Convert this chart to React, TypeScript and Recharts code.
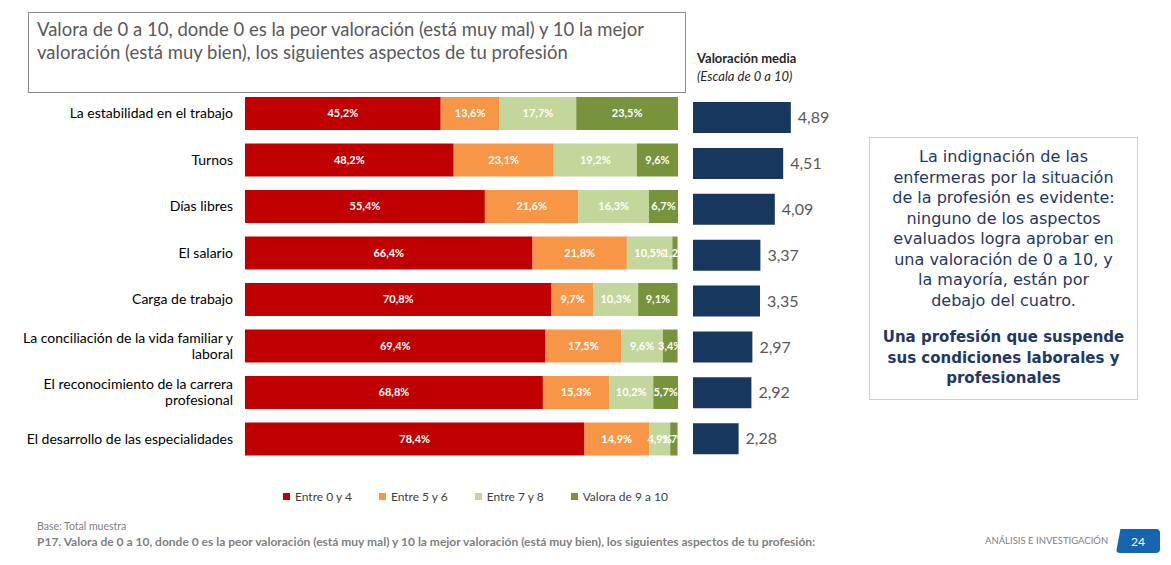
import React from "react";
import { BarChart, Bar, XAxis, YAxis, LabelList } from "recharts";

const aspects = [
  "La estabilidad en el trabajo",
  "Turnos",
  "Días libres",
  "El salario",
  "Carga de trabajo",
  "La conciliación de la vida familiar y laboral",
  "El reconocimiento de la carrera profesional",
  "El desarrollo de las especialidades",
];
const entre0y4 = [45.2, 48.2, 55.4, 66.4, 70.8, 69.4, 68.8, 78.4];
const entre5y6 = [13.6, 23.1, 21.6, 21.8, 9.7, 17.5, 15.3, 14.9];
const entre7y8 = [17.7, 19.2, 16.3, 10.5, 10.3, 9.6, 10.2, 4.9];
const de9a10 = [23.5, 9.6, 6.7, 1.2, 9.1, 3.4, 5.7, 1.7];
const mediaValues = [4.89, 4.51, 4.09, 3.37, 3.35, 2.97, 2.92, 2.28];

const seriesNames = ["Entre 0 y 4", "Entre 5 y 6", "Entre 7 y 8", "Valora de 9 a 10"];
const seriesColors = ["#C00000", "#F79646", "#C3D69B", "#77933C"];

const boxLines = [
  "La indignación de las",
  "enfermeras por la situación",
  "de la profesión es evidente:",
  "ninguno de los aspectos",
  "evaluados logra aprobar en",
  "una valoración de 0 a 10, y",
  "la mayoría, están por",
  "debajo del cuatro.",
];
const boxBoldLines = ["Una profesión que suspende", "sus condiciones laborales y", "profesionales"];

const data = aspects.map((a, i) => ({
  aspect: a,
  s0: entre0y4[i],
  s1: entre5y6[i],
  s2: entre7y8[i],
  s3: de9a10[i],
  media: mediaValues[i],
}));

const FONT = "Lato, 'Open Sans', sans-serif";
const pct = (v: any) => `${Number(v).toFixed(1).replace(".", ",")}%`;
const dec = (v: any) => Number(v).toFixed(2).replace(".", ",");

function splitLabel(text: string, max: number) {
  const words = text.split(" ");
  const lines: string[] = [];
  let cur = "";
  for (const w of words) {
    const next = cur ? cur + " " + w : w;
    if (next.length > max && cur) {
      lines.push(cur);
      cur = w;
    } else cur = next;
  }
  if (cur) lines.push(cur);
  return lines;
}

const AspectTick = (props: any) => {
  const { x, y, payload } = props;
  const lines = splitLabel(payload.value, 37);
  const lh = 16;
  const start = y - ((lines.length - 1) * lh) / 2;
  return (
    <text x={x} textAnchor="end" fontFamily={FONT} fontSize={14} fill="#000">
      {lines.map((l, i) => (
        <tspan key={i} x={x} y={start + i * lh} dy="0.35em">
          {l}
        </tspan>
      ))}
    </text>
  );
};

export default function App() {
  return (
    <div style={{ position: "absolute", left: 0, top: 0, width: 1171, height: 565, background: "#fff", fontFamily: FONT }}>
      <div
        style={{
          position: "absolute",
          left: 28,
          top: 12,
          width: 648,
          height: 74,
          border: "1px solid #8c8c8c",
          padding: "5px 0 0 8px",
          fontSize: 18.5,
          lineHeight: "23px",
          color: "#595959",
          whiteSpace: "nowrap",
        }}
      >
        Valora de 0 a 10, donde 0 es la peor valoración (está muy mal) y 10 la mejor
        <br />
        valoración (está muy bien), los siguientes aspectos de tu profesión
      </div>

      <div style={{ position: "absolute", left: 697, top: 49, fontSize: 13, color: "#262626", lineHeight: "18px" }}>
        <div style={{ fontWeight: 700 }}>Valoración media</div>
        <div style={{ fontStyle: "italic" }}>(Escala de 0 a 10)</div>
      </div>

      <div style={{ position: "absolute", left: 0, top: 90 }}>
        <BarChart
          width={690}
          height={372}
          data={data}
          layout="vertical"
          margin={{ top: 0, right: 12, bottom: 0, left: 0 }}
          barSize={33}
        >
          <XAxis type="number" domain={[0, 100]} hide allowDataOverflow />
          <YAxis
            type="category"
            dataKey="aspect"
            width={245}
            axisLine={false}
            tickLine={false}
            tick={<AspectTick />}
            tickMargin={6}
          />
          {["s0", "s1", "s2", "s3"].map((k, i) => (
            <Bar key={k} dataKey={k} name={seriesNames[i]} stackId="a" fill={seriesColors[i]} isAnimationActive={false}>
              <LabelList
                dataKey={k}
                position="center"
                formatter={pct}
                fill="#fff"
                fontSize={11}
                fontWeight={700}
                fontFamily={FONT}
              />
            </Bar>
          ))}
        </BarChart>
      </div>

      <div
        style={{
          position: "absolute",
          left: 283,
          top: 489,
          display: "flex",
          gap: 27,
          fontSize: 12,
          color: "#404040",
        }}
      >
        {seriesNames.map((n, i) => (
          <div key={n} style={{ display: "flex", alignItems: "center" }}>
            <span style={{ width: 7, height: 7, background: seriesColors[i], marginRight: 5, display: "inline-block" }} />
            {n}
          </div>
        ))}
      </div>

      <div style={{ position: "absolute", left: 693, top: 95 }}>
        <BarChart width={200} height={367} data={data} layout="vertical" margin={{ top: 0, right: 0, bottom: 0, left: 0 }} barSize={31}>
          <XAxis type="number" domain={[0, 10]} hide />
          <YAxis type="category" dataKey="aspect" hide />
          <Bar dataKey="media" fill="#17375E" isAnimationActive={false}>
            <LabelList
              dataKey="media"
              position="right"
              offset={7}
              formatter={dec}
              fill="#595959"
              fontSize={16}
              fontFamily={FONT}
            />
          </Bar>
        </BarChart>
      </div>

      <div
        style={{
          position: "absolute",
          left: 869,
          top: 137,
          width: 269,
          height: 263,
          border: "1px solid #d0d0d0",
          background: "#fff",
          color: "#1F3864",
          fontFamily: "'DejaVu Sans', sans-serif",
          lineHeight: "20.5px",
          textAlign: "center",
          paddingTop: 9,
          boxSizing: "border-box",
          whiteSpace: "nowrap",
        }}
      >
        <div style={{ fontSize: 16 }}>
          {boxLines.map((l) => (
            <div key={l}>{l}</div>
          ))}
        </div>
        <div style={{ fontSize: 15, fontWeight: 700, marginTop: 16 }}>
          {boxBoldLines.map((l) => (
            <div key={l}>{l}</div>
          ))}
        </div>
      </div>

      <div style={{ position: "absolute", left: 37, top: 520, fontSize: 10.5, color: "#7f7f7f" }}>Base: Total muestra</div>
      <div style={{ position: "absolute", left: 37, top: 534, fontSize: 12, fontWeight: 700, color: "#7f7f7f", whiteSpace: "nowrap" }}>
        P17. Valora de 0 a 10, donde 0 es la peor valoración (está muy mal) y 10 la mejor valoración (está muy bien), los
        siguientes aspectos de tu profesión:
      </div>
      <div style={{ position: "absolute", left: 985, top: 535, fontSize: 9.5, color: "#7f7f7f" }}>ANÁLISIS E INVESTIGACIÓN</div>
      <div
        style={{
          position: "absolute",
          left: 1116,
          top: 529,
          width: 44,
          height: 24,
          background: "#1565B0",
          clipPath: "polygon(10% 0, 100% 0, 100% 100%, 0 100%)",
          borderRadius: 4,
          color: "#fff",
          fontSize: 12,
          display: "flex",
          alignItems: "center",
          justifyContent: "center",
        }}
      >
        24
      </div>
    </div>
  );
}
